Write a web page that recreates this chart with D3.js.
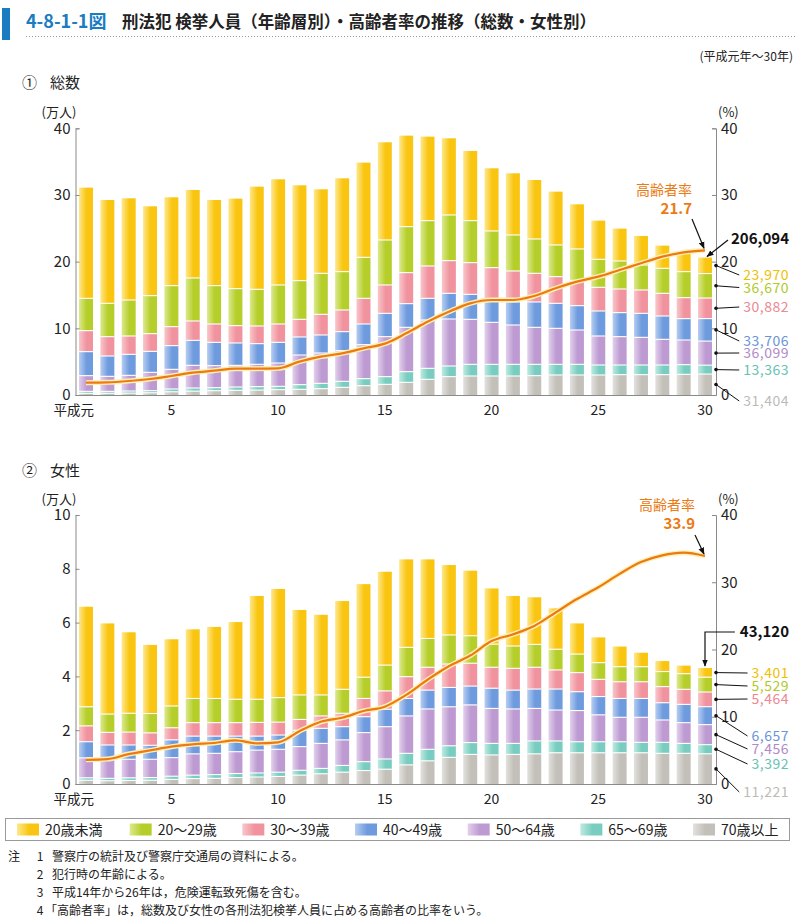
<!DOCTYPE html>
<html>
<head>
<meta charset="utf-8">
<script src="https://cdn.jsdelivr.net/npm/d3@7"></script>
<style>
  body { margin: 0; background: #fff; }
  svg { display: block; font-family: "Noto Sans CJK JP", "Noto Sans", sans-serif; }
</style>
</head>
<body>
<svg id="chart" width="796" height="919"></svg>
<script>
// 年次（平成）
const years = [1,2,3,4,5,6,7,8,9,10,11,12,13,14,15,16,17,18,19,20,21,22,23,24,25,26,27,28,29,30];
const tickYears = [1, 5, 10, 15, 20, 25, 30];
const tickLabels = ["平成元", "5", "10", "15", "20", "25", "30"];

const ageGroups = ["20歳未満", "20～29歳", "30～39歳", "40～49歳", "50～64歳", "65～69歳", "70歳以上"];
const keys = ["u20", "a20", "a30", "a40", "a50", "a65", "a70"];

// ① 総数（人）
const totalU20 = [166000,155000,152500,134000,132500,132000,128500,135000,154000,158500,143000,126000,140000,142000,146500,136500,126000,115000,104500,94000,92500,88500,80000,67000,58000,48500,43500,34000,30000,23970];
const total20s = [48500,50000,54000,57000,61500,64500,57500,55500,55000,58500,58000,61500,57500,61500,67500,69000,68000,68500,63000,55000,54000,51500,47500,47000,42000,42000,37500,37500,39000,36670];
const total30s = [31500,29000,27500,26500,28500,29000,27500,26000,26500,27500,26500,31000,32500,38500,42500,46500,48500,49000,47500,48500,46500,43000,40000,38000,35500,35500,35000,34000,31500,30882];
const total40s = [36000,30500,31500,31500,35500,37500,35000,33500,31000,31000,27000,27000,28500,31000,35000,35500,32500,38500,37500,33500,34500,38000,37500,36500,37500,36000,36000,35000,32000,33706];
const total5064 = [23500,22500,23500,27500,29500,34000,33000,32500,33500,35000,44500,45500,46000,51000,60000,66500,72500,70500,67500,63000,59000,55500,54000,51500,43500,42500,41500,38500,37000,36099];
const total6569 = [3000,2900,3200,3200,4200,4700,4600,5000,5100,5000,7000,8000,9000,10500,11500,16000,16500,16000,17500,17500,17500,17000,16000,16000,15000,14500,14500,14500,14500,13363];
const total70 = [2500,2600,2800,3300,4800,5800,6400,7000,7400,8000,8500,9500,11500,14000,16000,19000,23500,27500,28500,28500,28500,29000,30000,30000,30000,30500,30500,30500,31000,31404];
const rateTotal = [1.85,1.9,2.1,2.4,2.85,3.35,3.65,3.95,3.95,4.0,5.0,5.75,6.25,7.0,7.7,9.25,11.0,12.5,13.75,14.25,14.25,14.85,16.0,17.0,17.75,18.75,19.75,20.75,21.4,21.7];

// ② 女性（人）
const femU20 = [37200,33700,30100,25500,24800,25700,26600,28700,38400,40400,31600,29800,32800,34600,34700,32700,29400,26000,24200,20700,18600,17500,15200,11400,9400,7500,5200,3900,3000,3401];
const fem20s = [7100,6800,7000,7200,8100,9000,9000,8700,8600,9100,9100,7800,8900,7900,9600,10900,10700,10800,10200,8600,8300,8500,7700,6900,6200,5600,5600,5600,5800,5529];
const fem30s = [5900,4700,4800,4600,4500,5000,5000,5000,5100,4800,4000,4600,5000,6800,6800,8100,8500,8700,8500,7800,8100,8100,7100,7100,6400,6200,6200,6000,5600,5464];
const fem40s = [6000,5500,5300,5200,6600,6600,6400,5800,5200,5300,6100,5600,4900,5900,6500,6500,7000,7200,7000,7500,7000,7200,7800,7000,6800,7000,7000,6400,6800,6657];
const fem5064 = [7400,6900,6900,6800,6900,7900,7900,8100,8500,8500,8800,9300,9500,10800,12000,13900,15000,14500,14000,13000,12800,12100,11500,11600,10000,9100,9300,8300,7700,7456];
const fem6569 = [900,900,1000,1000,1200,1300,1400,1500,1500,1600,1800,2000,2500,3300,3800,4300,4300,4300,4400,4300,4100,4800,4400,4100,4100,4100,3900,4100,3700,3392];
const fem70 = [1400,1200,1300,1400,1700,2000,2100,2400,2600,2800,3300,3800,4400,5000,5500,7100,8600,9900,11000,10800,11000,11200,11600,11600,11600,11600,11600,11400,11400,11221];
const rateFemale = [3.6,3.7,4.45,5.0,5.55,5.9,6.1,6.5,6.05,6.2,7.85,9.25,9.85,10.85,11.5,13.25,15.5,17.5,19.1,21.25,22.25,23.5,25.5,27.5,29.25,31.25,33.0,34.0,34.4,33.9];

// colours: [light, base, label]
const colors = {
  u20: ["#fee88c", "#f9c510", "#f0c000"],
  a20: ["#dde98e", "#b5ce2a", "#b2c928"],
  a30: ["#f9c6cb", "#f0939e", "#ec8793"],
  a40: ["#b6cef2", "#6e9ade", "#6a94d6"],
  a50: ["#e3d0ec", "#bd9ad1", "#b28ac9"],
  a65: ["#bdeae1", "#79cdc0", "#66c2b4"],
  a70: ["#e3e1dd", "#c3c0ba", "#bdbbb7"]
};
const orange = "#ec7a12";

function buildRows(cols, rate) {
  return years.map((yr, i) => {
    const r = { year: yr, rate: rate[i] };
    keys.forEach((k, j) => { r[k] = cols[j][i]; });
    return r;
  });
}

const totalRows = buildRows([totalU20, total20s, total30s, total40s, total5064, total6569, total70], rateTotal);
const femRows = buildRows([femU20, fem20s, fem30s, fem40s, fem5064, fem6569, fem70], rateFemale);

const svg = d3.select("#chart");
const font = "'Noto Sans CJK JP', 'Noto Sans', sans-serif";
const axisX0 = 75.5, axisX1 = 716;

// gradients
const defs = svg.append("defs");
keys.forEach(k => {
  const gr = defs.append("linearGradient").attr("id", "grad-" + k)
    .attr("x1", 0).attr("x2", 1).attr("y1", 0).attr("y2", 0);
  gr.append("stop").attr("offset", "0%").attr("stop-color", colors[k][0]);
  gr.append("stop").attr("offset", "55%").attr("stop-color", colors[k][1]);
  gr.append("stop").attr("offset", "100%").attr("stop-color", colors[k][1]);
});
defs.append("marker").attr("id", "arrow")
  .attr("viewBox", "0 0 10 10").attr("refX", 9).attr("refY", 5)
  .attr("markerWidth", 6).attr("markerHeight", 6).attr("orient", "auto")
  .append("path").attr("d", "M0,1L10,5L0,9z").attr("fill", "#111");

// title
svg.append("rect").attr("x", 2).attr("y", 8).attr("width", 8).attr("height", 32).attr("fill", "#1b7cc1");
svg.append("text").attr("x", 26).attr("y", 28).attr("font-size", 18).attr("font-weight", "bold")
  .attr("fill", "#1b7cc1").text("4-8-1-1図");
svg.append("text").attr("x", 122).attr("y", 28).attr("font-size", 16.5).attr("font-weight", "bold")
  .attr("fill", "#222").text("刑法犯 検挙人員（年齢層別）・高齢者率の推移（総数・女性別）");
svg.append("line").attr("x1", 26).attr("x2", 796).attr("y1", 36.5).attr("y2", 36.5)
  .attr("stroke", "#999").attr("stroke-dasharray", "1,2");
svg.append("text").attr("x", 793).attr("y", 61).attr("text-anchor", "end").attr("font-size", 12)
  .attr("fill", "#222").text("(平成元年～30年)");

const x = d3.scaleBand().domain(years).range([75, 716]).paddingInner(0.344).paddingOuter(0.1875);
const bw = x.bandwidth();
const cx = yr => x(yr) + bw / 2;

const panels = [
  { title: "①", name: "総数", titleY: 88, rows: totalRows, yMax: 400000, leftTicks: [0, 100000, 200000, 300000, 400000],
    base: 395, top: 128.3, unitY: 117,
    rateLabelY: 195, arrowFrom: [692, 219], totalLabelY: 244, totalArrow: "diag",
    labelY: [275, 287.5, 307, 341, 353, 370, 401] },
  { title: "②", name: "女性", titleY: 476, rows: femRows, yMax: 100000, leftTicks: [0, 20000, 40000, 60000, 80000, 100000],
    base: 784, top: 515, unitY: 504,
    rateLabelY: 510, arrowFrom: [695, 535], totalLabelY: 637, totalArrow: "elbow",
    labelY: [673, 686, 699, 736, 749, 764, 792] }
];

panels.forEach(p => {
  const g = svg.append("g");
  const y = d3.scaleLinear().domain([0, p.yMax]).range([p.base, p.top]);
  const yr = d3.scaleLinear().domain([0, 40]).range([p.base, p.top]);

  g.append("text").attr("x", 22).attr("y", p.titleY).attr("font-size", 15).attr("fill", "#222").text(p.title);
  g.append("text").attr("x", 50).attr("y", p.titleY).attr("font-size", 15).attr("fill", "#222").text(p.name);
  g.append("text").attr("x", 59).attr("y", p.unitY).attr("text-anchor", "middle").attr("font-size", 13)
    .attr("fill", "#222").text("(万人)");
  g.append("text").attr("x", 718).attr("y", p.unitY).attr("font-size", 13).attr("fill", "#222").text("(%)");

  const series = d3.stack().keys(keys.slice().reverse())(p.rows);

  const layer = g.selectAll(".layer").data(series).join("g")
    .attr("class", "layer").attr("fill", d => "url(#grad-" + d.key + ")");
  layer.selectAll("rect").data(d => d).join("rect")
    .attr("x", d => x(d.data.year))
    .attr("y", d => y(d[1]))
    .attr("width", bw)
    .attr("height", d => y(d[0]) - y(d[1]));

  // white separators between segments
  series.slice(0, -1).forEach(s => {
    g.selectAll(null).data(s).join("line")
      .attr("x1", d => x(d.data.year)).attr("x2", d => x(d.data.year) + bw)
      .attr("y1", d => y(d[1])).attr("y2", d => y(d[1]))
      .attr("stroke", "#fff").attr("stroke-width", 1.1);
  });

  // axes
  const styleAxis = sel => {
    sel.attr("font-family", font).attr("font-size", 15);
    sel.selectAll(".domain, .tick line").attr("stroke", "#8a8a8a");
    sel.selectAll("text").attr("fill", "#222");
  };
  g.append("g").attr("transform", `translate(${axisX0},0)`)
    .call(d3.axisLeft(y).tickValues(p.leftTicks).tickSize(-4).tickPadding(5).tickFormat(d => d / 10000))
    .call(styleAxis);
  g.append("g").attr("transform", `translate(${axisX1},0)`)
    .call(d3.axisRight(yr).tickValues([0, 10, 20, 30, 40]).tickSize(-4).tickPadding(5))
    .call(styleAxis);
  const xa = g.append("g").attr("transform", `translate(0,${p.base})`)
    .call(d3.axisBottom(x).tickValues(tickYears).tickSize(0).tickPadding(10)
      .tickFormat(d => tickLabels[tickYears.indexOf(d)]))
    .call(styleAxis);
  xa.attr("font-size", 14);
  xa.selectAll(".tick text").filter(d => d === 1)
    .attr("text-anchor", "end").attr("x", 8).attr("font-size", 13.5);

  // 高齢者率 line
  const line = d3.line().x(d => cx(d.year)).y(d => yr(d.rate)).curve(d3.curveMonotoneX);
  g.append("path").datum(p.rows).attr("d", line).attr("fill", "none")
    .attr("stroke", "#fff0b8").attr("stroke-width", 5).attr("stroke-linejoin", "round");
  g.append("path").datum(p.rows).attr("d", line).attr("fill", "none")
    .attr("stroke", orange).attr("stroke-width", 2.2).attr("stroke-linejoin", "round");

  const last = p.rows[p.rows.length - 1];
  const lastX = cx(last.year);

  // rate annotation
  g.append("text").attr("x", p.arrowFrom[0]).attr("y", p.rateLabelY).attr("text-anchor", "end")
    .attr("font-size", 14).attr("fill", orange).text("高齢者率");
  g.append("text").attr("x", p.arrowFrom[0]).attr("y", p.rateLabelY + 19).attr("text-anchor", "end")
    .attr("font-size", 15).attr("font-weight", "bold").attr("fill", orange).text(last.rate.toFixed(1));
  g.append("line").attr("x1", p.arrowFrom[0]).attr("y1", p.arrowFrom[1])
    .attr("x2", lastX - 1).attr("y2", yr(last.rate) - 2)
    .attr("stroke", "#111").attr("stroke-width", 1.2).attr("marker-end", "url(#arrow)");

  // total annotation
  const totalLast = d3.sum(keys, k => last[k]);
  const tt = g.append("text").attr("x", 789).attr("y", p.totalLabelY).attr("text-anchor", "end")
    .attr("font-size", 15).attr("font-weight", "bold").attr("fill", "#111").text(d3.format(",")(totalLast));
  const tw = tt.node().getComputedTextLength();
  if (p.totalArrow === "diag") {
    g.append("line").attr("x1", 789 - tw - 3).attr("y1", p.totalLabelY - 4)
      .attr("x2", lastX + 2).attr("y2", y(totalLast) - 1)
      .attr("stroke", "#111").attr("stroke-width", 1.2).attr("marker-end", "url(#arrow)");
  } else {
    g.append("path")
      .attr("d", `M${789 - tw - 5},${p.totalLabelY - 5}H${lastX}V${y(totalLast) - 2}`)
      .attr("fill", "none").attr("stroke", "#111").attr("stroke-width", 1.2).attr("marker-end", "url(#arrow)");
  }

  // segment labels for 平成30年
  const lastSeries = series.map(s => ({ key: s.key, seg: s[s.length - 1] }));
  keys.forEach((k, i) => {
    const s = lastSeries.find(o => o.key === k).seg;
    const mid = y((s[0] + s[1]) / 2);
    const ly = p.labelY[i];
    const t = g.append("text").attr("x", 789).attr("y", ly + 5).attr("text-anchor", "end")
      .attr("font-size", 14).attr("letter-spacing", 0.5).attr("fill", colors[k][2]).text(d3.format(",")(last[k]));
    const w = t.node().getComputedTextLength();
    g.append("line").attr("x1", axisX1).attr("y1", mid).attr("x2", 789 - w - 4).attr("y2", ly)
      .attr("stroke", "#111").attr("stroke-width", 1);
    g.append("circle").attr("cx", axisX1).attr("cy", mid).attr("r", 1.8).attr("fill", "#111");
  });
});

// legend
const lg = svg.append("g");
lg.append("rect").attr("x", 5.5).attr("y", 818.5).attr("width", 784).attr("height", 22)
  .attr("fill", "#fff").attr("stroke", "#9a9a9a");
const legendX = d3.scalePoint().domain(keys).range([17, 693]);
keys.forEach((k, i) => {
  const lx = legendX(k);
  lg.append("rect").attr("x", lx).attr("y", 823.5).attr("width", 22).attr("height", 12)
    .attr("fill", "url(#grad-" + k + ")");
  lg.append("text").attr("x", lx + 28).attr("y", 834.5).attr("font-size", 14).attr("fill", "#222")
    .text(ageGroups[i]);
});

// notes
const notes = [
  ["注", "1", "警察庁の統計及び警察庁交通局の資料による。"],
  ["", "2", "犯行時の年齢による。"],
  ["", "3", "平成14年から26年は，危険運転致死傷を含む。"],
  ["", "4", "「高齢者率」は，総数及び女性の各刑法犯検挙人員に占める高齢者の比率をいう。"]
];
notes.forEach((n, i) => {
  const ny = 861 + i * 18;
  svg.append("text").attr("x", 8).attr("y", ny).attr("font-size", 12).attr("fill", "#222").text(n[0]);
  svg.append("text").attr("x", 40).attr("y", ny).attr("text-anchor", "middle").attr("font-size", 12).attr("fill", "#222").text(n[1]);
  svg.append("text").attr("x", n[2].startsWith("「") ? 45 : 52).attr("y", ny).attr("font-size", 12).attr("fill", "#222").text(n[2]);
});
</script>
</body>
</html>
